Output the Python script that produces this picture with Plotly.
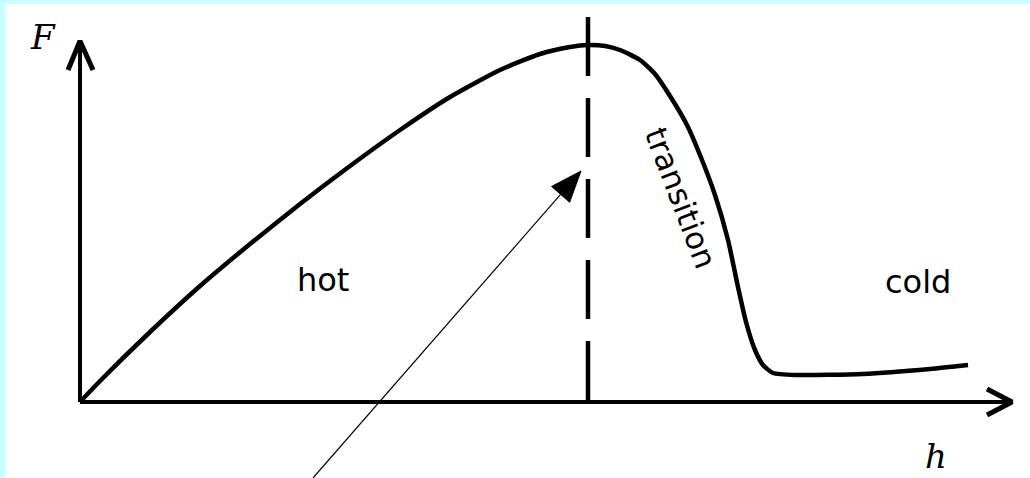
import numpy as np
import plotly.graph_objects as go

# Curve F(h), in chart units (origin at axis crossing)
h_vals = [0, 20, 70, 120, 170, 220, 270, 320, 370, 420, 460, 490, 508, 525, 540, 560, 575, 590, 607, 620, 635, 648, 658, 666, 675, 683, 693, 717, 783, 850, 888]
F_vals = [0, 21, 70, 116, 158, 198, 236, 272, 305, 332, 348, 355, 357, 356, 352, 342, 328, 306, 277, 247, 207, 162, 115, 80, 52, 37, 29, 27, 28, 33, 37]

# Boundary marker and axes extents
h_split = 508
F_split_top = 385
h_axis_end = 932
F_axis_end = 361

# Pointer arrow (start -> tip)
ptr_start = (233, -76)
ptr_tip = (501, 231)

# Labels: (text, h, F)
region_labels = [("hot", 243, 122), ("cold", 838, 120)]
trans_label = ("transition", 601, 204)
F_label_pos = (-37, 365)
h_label_pos = (856, -54)

fig = go.Figure()

# axes
fig.add_trace(go.Scatter(x=[0, h_axis_end], y=[0, 0], mode="lines",
                         line=dict(color="black", width=4), hoverinfo="skip"))
fig.add_trace(go.Scatter(x=[0, 0], y=[0, F_axis_end], mode="lines",
                         line=dict(color="black", width=4), hoverinfo="skip"))
# chevron heads
fig.add_trace(go.Scatter(x=[h_axis_end - 25, h_axis_end, h_axis_end - 25],
                         y=[13, 0, -13], mode="lines",
                         line=dict(color="black", width=5), hoverinfo="skip"))
fig.add_trace(go.Scatter(x=[-12, 0, 13], y=[F_axis_end - 29, F_axis_end, F_axis_end - 29],
                         mode="lines", line=dict(color="black", width=5), hoverinfo="skip"))

# dashed boundary (drawn top -> axis)
fig.add_trace(go.Scatter(x=[h_split, h_split], y=[F_split_top, 0], mode="lines",
                         line=dict(color="black", width=4.5, dash="59px,22px"), hoverinfo="skip"))

# curve
fig.add_trace(go.Scatter(x=h_vals, y=F_vals, mode="lines",
                         line=dict(color="black", width=4.5, shape="spline", smoothing=0.6),
                         hoverinfo="skip"))

# pointer arrow
sx, sy = ptr_start
tx, ty = ptr_tip
d = np.array([tx - sx, ty - sy], dtype=float)
u = d / np.linalg.norm(d)
p = np.array([-u[1], u[0]])
L, W = 31, 12
base = np.array([tx, ty]) - L * u
b1 = base + W * p
b2 = base - W * p
fig.add_trace(go.Scatter(x=[sx, base[0]], y=[sy, base[1]], mode="lines",
                         line=dict(color="black", width=1.2), hoverinfo="skip"))
fig.add_trace(go.Scatter(x=[tx, b1[0], b2[0], tx], y=[ty, b1[1], b2[1], ty], mode="lines",
                         fill="toself", fillcolor="black",
                         line=dict(color="black", width=1), hoverinfo="skip"))

ann = []
for t, x, y in region_labels:
    ann.append(dict(x=x, y=y, text=t, showarrow=False, xanchor="center", yanchor="middle",
                    font=dict(family="DejaVu Sans", size=32, color="black")))
ann.append(dict(x=trans_label[1], y=trans_label[2], text=trans_label[0], showarrow=False,
                textangle=69, xanchor="center", yanchor="middle",
                font=dict(family="DejaVu Sans", size=31, color="black")))
ann.append(dict(x=F_label_pos[0], y=F_label_pos[1], text="<i>F</i>", showarrow=False,
                xanchor="center", yanchor="middle",
                font=dict(family="DejaVu Serif", size=34, color="black")))
ann.append(dict(x=h_label_pos[0], y=h_label_pos[1], text="<i>h</i>", showarrow=False,
                xanchor="center", yanchor="middle",
                font=dict(family="DejaVu Serif", size=34, color="black")))

# light cyan frame strips on the left and top edges (paper fractions of the plot area)
pw, ph = 1024.0, 474.0
frame = [
    dict(type="rect", xref="paper", yref="paper", x0=-6 / pw, x1=0, y0=-0.01, y1=1 + 4 / ph,
         fillcolor="#ccffff", line=dict(width=0), layer="below"),
    dict(type="rect", xref="paper", yref="paper", x0=-6 / pw, x1=1.01, y0=1, y1=1 + 4 / ph,
         fillcolor="#ccffff", line=dict(width=0), layer="below"),
]

fig.update_layout(
    width=1030, height=478,
    margin=dict(l=6, r=0, t=4, b=0),
    paper_bgcolor="white", plot_bgcolor="white",
    showlegend=False,
    annotations=ann,
    shapes=frame,
    xaxis=dict(range=[-74, 950], visible=False, fixedrange=True),
    yaxis=dict(range=[-76, 398], visible=False, fixedrange=True),
)

fig.write_html("out.html", config={"displayModeBar": False},
               post_script="document.body.style.margin='0';document.body.style.padding='0';")
